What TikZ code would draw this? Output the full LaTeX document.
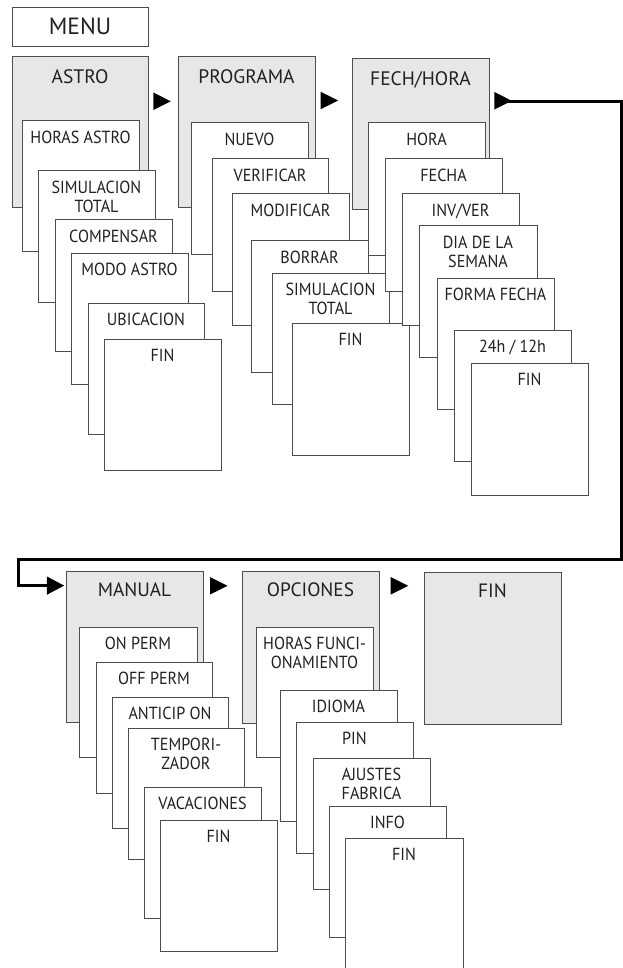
\documentclass[tikz,border=0pt]{standalone}
\usepackage{fontspec}
\setmainfont{PT Sans}
\newfontfamily\subfont{PT Sans}[FakeStretch=0.92]
\usetikzlibrary{arrows.meta}
\definecolor{boxgray}{HTML}{E6E7E8}
\definecolor{boxline}{HTML}{4D4D4D}
\definecolor{txt}{HTML}{231F20}
\tikzset{
  subbox/.style={draw=boxline, fill=white, line width=1pt, inner sep=0pt, outer sep=0pt},
  subboxlab/.style={anchor=north, inner sep=0pt, yshift=-10pt, align=center, text=txt,
    font=\subfont\fontsize{17.5}{19}\selectfont},
  topbox/.style={draw=boxline, fill=boxgray, line width=1pt, inner sep=0pt, outer sep=0pt},
  topboxlab/.style={anchor=north, inner sep=0pt, yshift=-12.5pt, text=txt,
    font=\fontsize{19.5}{21}\selectfont},
  botbox/.style={topbox},
  botboxlab/.style={anchor=north, inner sep=0pt, yshift=-11.5pt, text=txt,
    font=\fontsize{19.3}{21}\selectfont},
  menubox/.style={subbox},
  menuboxlab/.style={anchor=north, inner sep=0pt, yshift=-10pt, text=txt,
    font=\fontsize{23.5}{25}\selectfont},
  conn/.style={line width=2.7pt, black},
  tri/.style={fill=black},
}
% #1 style, #2 name, #3 x1, #4 y1, #5 x2, #6 y2, #7 text
\newcommand\mkbox[7][subbox]{%
  \node[#1, minimum width={#5pt-#3pt}, minimum height={#6pt-#4pt}, anchor=north west,
        label={[#1lab]north:#7}] (#2) at (#3,#4) {};}
\newcommand\mktri[2]{% x of left edge, y of centre
  \fill[tri] (#1,#2-8.8) -- (#1+17.5,#2) -- (#1,#2+8.8) -- cycle;}
\begin{document}
\begin{tikzpicture}[x=1pt, y=-1pt]
\useasboundingbox (0,0) rectangle (623,968);
\mkbox[menubox]{menu}{12}{8}{148}{47}{MENU}
% ---- ASTRO
\mkbox[topbox]{astro}{12}{57}{148}{208}{ASTRO}
\mkbox{a1}{22}{121}{139}{251}{HORAS ASTRO}
\mkbox{a2}{38}{171}{155}{302}{SIMULACION\\TOTAL}
\mkbox{a3}{55}{220}{172}{351}{COMPENSAR}
\mkbox{a4}{71}{253}{188}{384}{MODO ASTRO}
\mkbox{a5}{88}{303}{204}{434}{UBICACION}
\mkbox{a6}{104}{339}{221}{470}{FIN}
% ---- PROGRAMA
\mkbox[topbox]{prog}{178}{57}{315}{208}{PROGRAMA}
\mkbox{p1}{191}{123}{308}{254}{NUEVO}
\mkbox{p2}{212}{159}{328}{291}{VERIFICAR}
\mkbox{p3}{232}{194}{349}{325}{MODIFICAR}
\mkbox{p4}{251}{241}{368}{372}{BORRAR}
\mkbox{p5}{272}{273}{389}{404}{SIMULACION\\TOTAL}
\mkbox{p6}{292}{323}{409}{455}{FIN}
% ---- FECH/HORA
\mkbox[topbox]{fech}{352}{59}{489}{210}{FECH/HORA}
\mkbox{f1}{368}{123}{485}{255}{HORA}
\mkbox{f2}{385}{159}{502}{291}{FECHA}
\mkbox{f3}{402}{194}{519}{325}{INV/VER}
\mkbox{f4}{419}{226}{537}{357}{DIA DE LA\\SEMANA}
\mkbox{f5}{437}{278}{554}{409}{FORMA FECHA}
\mkbox{f6}{454}{330}{571}{461}{24h / 12h}
\mkbox{f7}{471}{363}{588}{495}{FIN}
% ---- MANUAL
\mkbox[botbox]{manual}{66}{571}{203}{722}{MANUAL}
\mkbox{m1}{79}{627}{197}{757}{ON PERM}
\mkbox{m2}{96}{662}{212}{793}{OFF PERM}
\mkbox{m3}{112}{697}{228}{828}{ANTICIP ON}
\mkbox{m4}{128}{728}{244}{859}{TEMPORI-\\ZADOR}
\mkbox{m5}{144}{787}{261}{918}{VACACIONES}
\mkbox{m6}{160}{820}{277}{951}{FIN}
% ---- OPCIONES
\mkbox[botbox]{opc}{242}{571}{379}{723}{OPCIONES}
\mkbox{o1}{256}{627}{373}{757}{HORAS FUNCI-\\ONAMIENTO}
\mkbox{o2}{280}{690}{397}{821}{IDIOMA}
\mkbox{o3}{296}{722}{413}{853}{PIN}
\mkbox{o4}{313}{758}{430}{889}{AJUSTES\\FABRICA}
\mkbox{o5}{329}{806}{446}{937}{INFO}
\mkbox{o6}{345}{838}{463}{980}{FIN}
% ---- FIN
\mkbox[botbox]{fin}{424}{572}{561}{724}{FIN}
% ---- arrows
\mktri{153.3}{101.3}
\mktri{320.5}{100.5}
\mktri{494.3}{100.8}
\mktri{210}{585.8}
\mktri{390.7}{585.8}
\coordinate (fout) at (505,101.3);
\coordinate (c1) at (621.3,101.3);
\coordinate (c2) at (621.3,559.7);
\coordinate (c3) at (18.7,559.7);
\coordinate (c4) at (18.7,585.6);
\draw[conn, -{Triangle[length=17.5pt,width=17.6pt]}, shorten >=1.7pt]
  (fout) -- (c1) -- (c2) -- (c3) -- (c4) -- (manual.west |- c4);
\end{tikzpicture}
\end{document}
